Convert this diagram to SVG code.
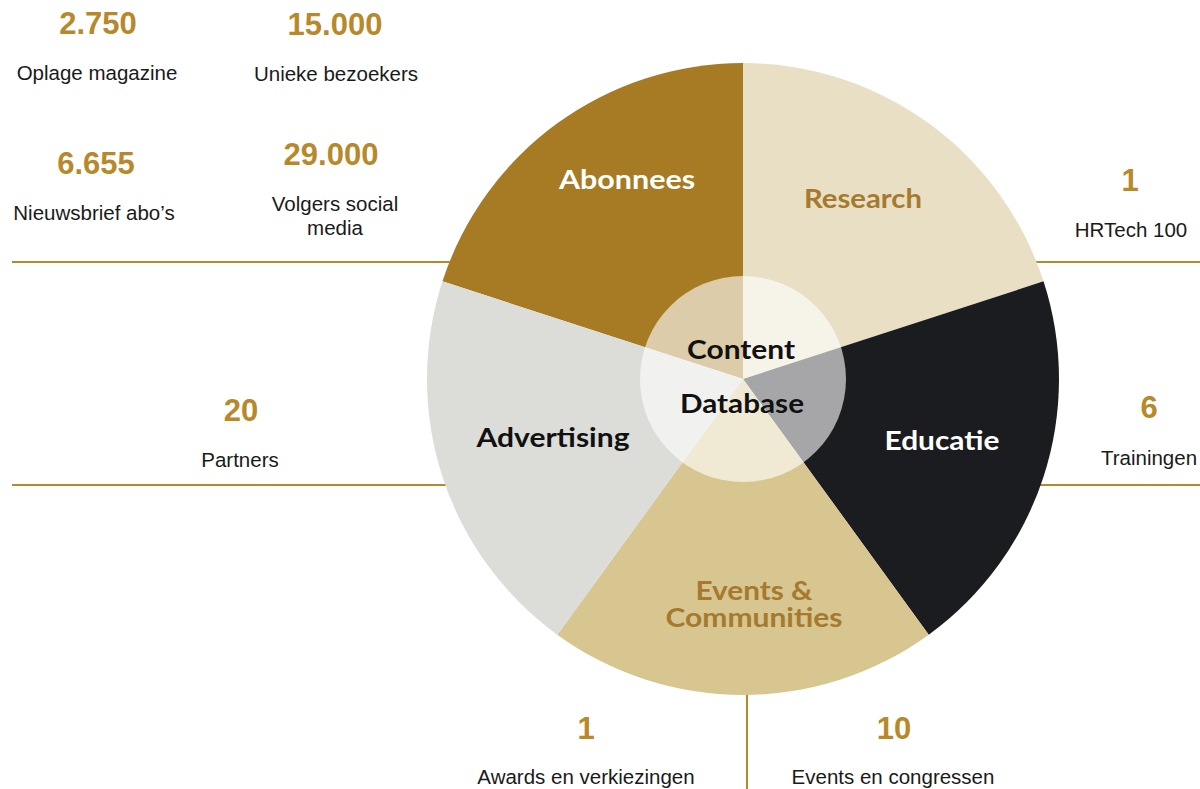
<svg xmlns="http://www.w3.org/2000/svg" width="1200" height="789" viewBox="0 0 1200 789">
<style>
.num{font-family:"Liberation Sans",Arial,sans-serif;font-weight:700;font-size:31px;fill:#b8892b;text-anchor:middle}
.lbl{font-family:"Liberation Sans",Arial,sans-serif;font-size:20.5px;fill:#1a1a1a;text-anchor:middle}
.seg{font-family:Lato,"Open Sans",sans-serif;font-weight:700;font-size:26px;text-anchor:middle}
.rule{stroke:#b8892b;stroke-width:2;fill:none}
</style>
<rect width="1200" height="789" fill="#ffffff"/>
<g id="connectors">
<line class="rule" x1="12" y1="262" x2="500" y2="262"/>
<line class="rule" x1="1000" y1="262" x2="1200" y2="262"/>
<line class="rule" x1="12" y1="485" x2="500" y2="485"/>
<line class="rule" x1="1000" y1="485" x2="1200" y2="485"/>
<line class="rule" x1="747" y1="690" x2="747" y2="789"/>
</g>
<g id="seg-abonnees">
<path d="M743 379 L442.47 281.35 A316 316 0 0 1 743 63 Z" fill="#a67b24"/>
<text class="seg" x="627" y="189" fill="#ffffff" textLength="136" lengthAdjust="spacingAndGlyphs">Abonnees</text>
</g>
<g id="seg-research">
<path d="M743 379 L743 63 A316 316 0 0 1 1043.53 281.35 Z" fill="#e8dfc5"/>
<text class="seg" x="863" y="208" fill="#a57a2e" textLength="118" lengthAdjust="spacingAndGlyphs">Research</text>
</g>
<g id="seg-educatie">
<path d="M743 379 L1043.53 281.35 A316 316 0 0 1 928.74 634.65 Z" fill="#1a1c1f"/>
<text class="seg" x="942" y="450" fill="#ffffff" textLength="115" lengthAdjust="spacingAndGlyphs">Educatie</text>
</g>
<g id="seg-events">
<path d="M743 379 L928.74 634.65 A316 316 0 0 1 557.26 634.65 Z" fill="#d8c691"/>
<text class="seg" x="754" y="600" fill="#a57a2e" textLength="117" lengthAdjust="spacingAndGlyphs">Events &amp;</text>
<text class="seg" x="754" y="627" fill="#a57a2e" textLength="177" lengthAdjust="spacingAndGlyphs">Communities</text>
</g>
<g id="seg-advertising">
<path d="M743 379 L557.26 634.65 A316 316 0 0 1 442.47 281.35 Z" fill="#dcdcd8"/>
<text class="seg" x="553" y="447" fill="#111111" textLength="153" lengthAdjust="spacingAndGlyphs">Advertising</text>
</g>
<g id="center">
<circle cx="743" cy="379" r="103" fill="#ffffff" fill-opacity="0.61"/>
<text class="seg" x="741" y="359" fill="#111111" textLength="108" lengthAdjust="spacingAndGlyphs">Content</text>
<text class="seg" x="742" y="413" fill="#111111" textLength="124" lengthAdjust="spacingAndGlyphs">Database</text>
</g>
<g id="stat-oplage">
<text class="num" x="98" y="34">2.750</text>
<text class="lbl" x="97" y="80">Oplage magazine</text>
</g>
<g id="stat-bezoekers">
<text class="num" x="335" y="35">15.000</text>
<text class="lbl" x="336" y="81">Unieke bezoekers</text>
</g>
<g id="stat-nieuwsbrief">
<text class="num" x="96" y="174">6.655</text>
<text class="lbl" x="94" y="220">Nieuwsbrief abo’s</text>
</g>
<g id="stat-social">
<text class="num" x="331" y="165">29.000</text>
<text class="lbl" x="335" y="211">Volgers social</text>
<text class="lbl" x="335" y="235">media</text>
</g>
<g id="stat-hrtech">
<text class="num" x="1130" y="191">1</text>
<text class="lbl" x="1131" y="237">HRTech 100</text>
</g>
<g id="stat-partners">
<text class="num" x="241" y="421">20</text>
<text class="lbl" x="240" y="467">Partners</text>
</g>
<g id="stat-trainingen">
<text class="num" x="1149" y="418">6</text>
<text class="lbl" x="1149" y="465">Trainingen</text>
</g>
<g id="stat-awards">
<text class="num" x="586" y="739">1</text>
<text class="lbl" x="586" y="784">Awards en verkiezingen</text>
</g>
<g id="stat-events">
<text class="num" x="894" y="739">10</text>
<text class="lbl" x="893" y="784">Events en congressen</text>
</g>
</svg>
